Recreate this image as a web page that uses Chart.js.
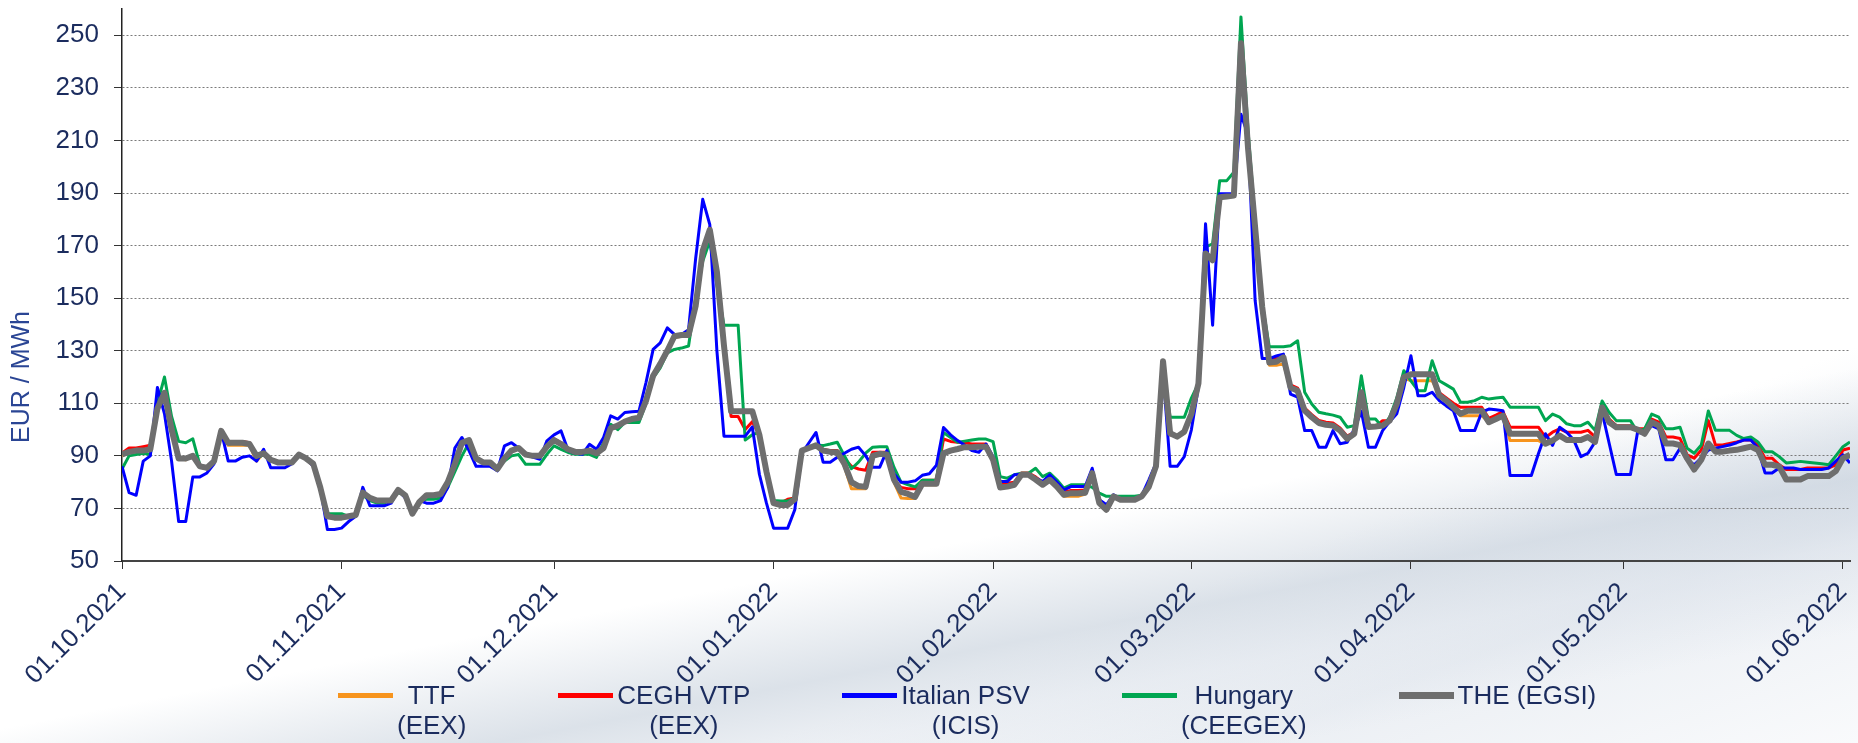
<!DOCTYPE html>
<html lang="en">
<head>
    <meta charset="UTF-8">
    <title>Gas hub prices</title>
    <script src="https://cdn.jsdelivr.net/npm/chart.js"></script>
    <style>
        html, body {
            margin: 0;
            padding: 0;
            width: 1858px;
            height: 743px;
            overflow: hidden;
            font-family: 'Liberation Sans', Arial, sans-serif;
        }
        body {
            background:
                linear-gradient(169deg, rgba(255,255,255,0) 66%, rgba(176,190,206,0.45) 76%, rgba(205,214,226,0.35) 82%, rgba(255,255,255,0) 90%),
                linear-gradient(160deg, rgba(255,255,255,0) 72%, rgba(222,228,236,0.6) 84%, rgba(240,243,247,0.4) 100%),
                #ffffff;
        }
        #wrap {
            position: relative;
            width: 1858px;
            height: 743px;
        }
        #legend {
            position: absolute;
            left: 338px;
            top: 680px;
            display: flex;
            gap: 92px;
            color: #1b2c5e;
            font-size: 26px;
            line-height: 30px;
        }
        .legend-item {
            display: flex;
            align-items: flex-start;
        }
        .legend-swatch {
            width: 55px;
            height: 5px;
            margin-top: 13px;
            margin-right: 4px;
        }
        .legend-text {
            text-align: center;
        }
    </style>
</head>
<body>
<div id="wrap">
    <canvas id="priceChart" width="1858" height="743"></canvas>
    <div id="legend"></div>
</div>

<script>
    // month ticks (day index from 01.10.2021)
    var monthDays = [0, 31, 61, 92, 123, 151, 182, 212, 243];
    var monthLabels = ['01.10.2021', '01.11.2021', '01.12.2021', '01.01.2022', '01.02.2022',
        '01.03.2022', '01.04.2022', '01.05.2022', '01.06.2022'];
    var yTickValues = [50, 70, 90, 110, 130, 150, 170, 190, 210, 230, 250];

    var seriesNames = ['TTF', 'CEGH VTP', 'Italian PSV', 'Hungary', 'THE (EGSI)'];
    var seriesSources = ['(EEX)', '(EEX)', '(ICIS)', '(CEEGEX)', ''];
    var seriesColors = ['#f7941d', '#ff0000', '#0000ff', '#00a651', '#6e6e6e'];

    // daily prices, EUR/MWh
    var ttf = [
        90, 91.5, 92, 92, 92.5, 108, 114, 100, 89, 88.5,
        90, 86, 85, 87.5, 99.5, 94, 94, 94, 94, 88,
        91, 88.5, 87.5, 87.5, 87.5, 90.5, 89, 86, 78, 67,
        66.5, 66.5, 67, 67.5, 76, 74, 73, 73, 73, 77,
        75, 68, 72.5, 75, 75, 75.5, 80, 87, 95, 96,
        89, 87.5, 87.5, 85, 89, 92, 93, 90.5, 90, 90,
        93.5, 96, 94.5, 92.5, 91.5, 91.5, 92, 91, 93, 100.5,
        101.5, 103, 104, 104.5, 111, 120.5, 125, 130, 135, 135.5,
        135.5, 147, 168, 176, 160, 132, 107, 107, 107, 107,
        98, 84, 72, 71.3, 71.3, 73.5, 92, 93, 94, 92,
        91.5, 91.4, 86, 77.5, 77.5, 77.5, 90, 90.8, 90.5, 80,
        74, 73.8, 73.8, 79, 79, 79, 91, 92, 92.6, 93.3,
        93.3, 93.5, 93.5, 88.5, 78, 78.3, 79, 82.8, 82.8, 81,
        79, 80.9, 78, 74.6, 74.6, 74.6, 75.5, 83.4, 72, 69.5,
        74.6, 73.3, 73.3, 73.3, 74.6, 78.3, 86, 126, 98.6, 97.3,
        99.2, 106, 117.6, 167, 164.4, 188.4, 188.7, 189, 247, 207,
        177, 146, 124.5, 124.5, 125, 116, 114.8, 107, 104.5, 102.5,
        101.8, 101.5, 99.6, 96.5, 98.4, 114.2, 101, 101.2, 101.5, 103.4,
        109.7, 119.5, 118.6, 118.6, 118.6, 118.6, 113, 111, 108, 105.3,
        105.3, 105.3, 105.3, 102.8, 104, 105, 95.8, 95.8, 95.8, 95.8,
        95.8, 94.6, 95.8, 97.7, 96, 96, 96, 97, 95, 108.4,
        102.8, 100.9, 100.9, 100.9, 100, 98.4, 102.8, 101.5, 94.7, 94.7,
        94.1, 89, 84.8, 88.5, 94.7, 91.6, 91.6, 92, 92.3, 92.9,
        93.5, 92.2, 86.6, 86.6, 86, 81, 81, 81, 82.3, 82.3,
        82.3, 82.3, 84.2, 89.1, 90.4
    ];
    var ceghVtp = [
        91, 93, 93, 93.5, 94, 108, 114, 100, 89, 89,
        90, 86, 85.5, 88, 99.5, 95.5, 95.5, 95.5, 95, 90,
        91, 88.5, 87.5, 87.5, 87.5, 90.5, 89, 87, 78, 67,
        66.5, 66.5, 67, 67.5, 76, 74, 73, 73, 73, 77,
        75, 68, 72.5, 75, 75, 75.5, 80, 87, 95, 96,
        89, 87.5, 87.5, 85, 89, 92, 93, 90.5, 90, 90,
        93.5, 96.5, 95, 92.5, 91.5, 91.5, 92, 91, 93, 100.5,
        101.5, 103, 104, 104.5, 111, 120.5, 125, 130, 135.5, 136,
        136, 147, 168, 177, 160, 130, 105, 105, 100, 103,
        98, 84, 72.5, 72, 73.5, 74, 92, 93, 94, 92.5,
        92, 92, 89, 86, 85, 84.5, 91.4, 91.4, 91.4, 81,
        78, 77.5, 77.5, 80.7, 80.7, 80.7, 96.4, 95.5, 95.2, 95,
        94.5, 94.5, 94.5, 89, 79.5, 79.6, 80, 83.5, 83.5, 82,
        80, 81.5, 79.3, 76.2, 76.8, 76.8, 77, 83.4, 72.7, 70.5,
        75, 74, 74, 74, 75, 78.5, 86, 126, 98, 97.5,
        99.2, 106, 117.6, 167, 164.4, 188.4, 188.7, 189, 247, 207,
        177, 146.7, 127, 127, 127.5, 117, 115.8, 108.2, 105.7, 103.5,
        102.8, 102.5, 100.6, 97.5, 99, 114.2, 101, 101.2, 103.4, 103.4,
        109.7, 119.9, 121, 121, 121, 121, 114, 112, 110, 108.5,
        108.5, 108.5, 108.5, 104.3, 105.5, 106.8, 100.9, 100.9, 100.9, 100.9,
        100.9, 97, 99, 100.3, 99, 99, 99, 99.7, 97.2, 109.6,
        104, 101.5, 101.5, 101.5, 100.3, 100.3, 104, 102.8, 97.2, 97.2,
        96.6, 90.4, 89.1, 92.2, 103.4, 94.1, 94.1, 94.7, 95.3, 96,
        96, 94.1, 89.1, 89.1, 86.6, 84.8, 84.8, 84.8, 85.4, 85.4,
        85.4, 85.4, 86.6, 92.2, 92.9
    ];
    var italianPsv = [
        86, 76, 75, 88, 90, 116, 106, 88, 65, 65,
        82, 82, 83.5, 87, 99.5, 88, 88, 89.5, 90, 88,
        92.5, 85.5, 85.5, 85.5, 87, 90.5, 89, 86, 78, 62,
        62, 62.5, 65, 67, 78, 71, 71, 71, 72, 77,
        74, 68, 73, 72, 72, 73, 78, 93, 97, 92,
        86, 86, 86, 84.3, 93.8, 95, 93, 90.6, 89.5, 88.7,
        95.7, 98, 99.5, 92, 91, 90.6, 94.4, 92.5, 97, 105.2,
        104, 106.5, 106.8, 107, 118, 130.5, 133, 138.7, 136.2, 136.2,
        138, 165, 187.6, 178, 130, 97.5, 97.5, 97.5, 97.5, 101,
        83, 72, 62.5, 62.5, 62.5, 69.5, 91, 95, 98.9, 87.6,
        87.6, 89.5, 91, 92.5, 93.3, 90.1, 85.7, 85.7, 92, 83.2,
        80, 80, 80.5, 82.6, 83.2, 86.4, 100.8, 98, 95.8, 94,
        92, 91.4, 94.5, 89.7, 80.2, 80.2, 82.8, 83, 83, 81.5,
        80.2, 82.8, 80, 77.1, 78.3, 78.3, 78.3, 85.3, 73.3, 71.4,
        75.2, 73.5, 73.5, 73.5, 75, 80.9, 87.2, 122, 86, 86,
        89.7, 99.9, 116.3, 178.3, 139.7, 189.7, 189.7, 189.7, 220, 212,
        149.2, 127, 127, 128, 128.7, 113.5, 112.3, 99.6, 99.6, 93.3,
        93.3, 99.6, 94.6, 95.2, 100, 107, 93.3, 93.3, 99.6, 103,
        106, 116, 128.1, 112.9, 112.9, 114.2, 111, 109, 107.2, 99.6,
        99.6, 99.6, 106.6, 107.8, 107.5, 107.2, 82.5, 82.5, 82.5, 82.5,
        90.8, 98.4, 94, 100.9, 99, 96, 89.7, 91, 95.3, 106.5,
        94.7, 82.9, 82.9, 82.9, 99, 98.4, 101.5, 100.3, 88.5, 88.5,
        92.9, 88.5, 86.6, 89.1, 92.2, 92.9, 93.5, 94.1, 95, 96,
        96, 92.9, 83.5, 83.5, 85.4, 85.4, 85.4, 84.8, 84.8, 84.8,
        84.8, 85.4, 88, 90.4, 87.3
    ];
    var hungary = [
        85, 90, 90.5, 91, 90.5, 110, 120, 105, 95.5, 95,
        96.5, 86.5, 85.5, 88, 99, 94.5, 95, 95, 94.5, 89,
        90.5, 88, 87.5, 87.5, 87.5, 90, 89, 87, 79, 68,
        68, 68, 67, 67, 75, 73, 72, 72, 73.5, 76,
        75, 68, 73, 73.5, 73.5, 74, 78, 84, 90, 95,
        89, 87.5, 87.5, 85.5, 88, 90, 90.5, 86.8, 86.8, 86.8,
        90.6, 93.8, 92.5, 91.3, 90.6, 90.6, 90.6, 89.4, 95, 102,
        100, 102.7, 102.7, 102.7, 110, 119.7, 123.5, 129.2, 130.5, 131,
        131.8, 150, 164, 171.7, 155, 139.7, 139.7, 139.7, 96, 98,
        99, 85, 73, 72.8, 72.8, 74, 92, 93.5, 94, 93.9,
        94.5, 95.2, 90.1, 85.1, 87.6, 91, 93.3, 93.5, 93.5, 85.7,
        80, 79, 78.2, 80.7, 80.7, 80.7, 98.9, 97, 95.2, 95.6,
        96, 96.4, 96.4, 95.4, 82.1, 81.5, 82.8, 83.4, 83.4, 85.3,
        82.1, 83.4, 80.9, 77.7, 79, 79, 79, 78, 75.8, 74.6,
        74.6, 74.6, 74.6, 74.6, 75, 78, 86, 123.6, 104.7, 104.7,
        104.7, 112, 117.6, 169.4, 170.7, 194.7, 194.7, 197.9, 257, 213.7,
        179.5, 148, 131.5, 131.5, 131.5, 131.9, 133.8, 114.2, 109.7, 106.6,
        106, 105.5, 104.7, 100.9, 101.5, 120.5, 104, 104, 100.9, 104.7,
        112, 122.4, 118.5, 114.8, 114.8, 126.2, 118.6, 117, 115.4, 110.4,
        110.4, 111, 112.3, 111.6, 112, 112.3, 108.5, 108.5, 108.5, 108.5,
        108.5, 103.4, 105.9, 104.7, 102.2, 101.5, 101.5, 102.8, 99.7, 110.9,
        106.5, 103.4, 103.4, 103.4, 99, 100.3, 105.9, 104.7, 100.3, 100.3,
        100.9, 92.9, 91, 94.1, 107.1, 99.7, 99.7, 99.7, 97.8, 96.6,
        97.2, 95.3, 91.6, 91.6, 89.7, 87.3, 87.6, 87.9, 87.6, 87.3,
        87, 86.6, 90, 93.5, 95.3
    ];
    var theEgsi = [
        90.5, 91.5, 92, 92, 92.5, 108, 114, 100, 89, 89,
        90, 86, 85.5, 88, 99.5, 95, 95, 95, 94.5, 90,
        91, 88.5, 87.5, 87.5, 87.5, 90.5, 89, 87, 78, 67,
        66.5, 66.5, 67, 67.5, 76, 74, 73, 73, 73, 77,
        75, 68, 72.5, 75, 75, 75.5, 80, 87, 95, 96,
        89, 87.5, 87.5, 85, 89, 92, 93, 90.5, 90, 90,
        93.5, 96, 94.5, 92.5, 91.5, 91.5, 92, 91, 93, 100.5,
        101.5, 103, 104, 104.5, 111, 120.5, 125, 130, 135.5, 136,
        136, 147, 168, 176, 160, 132, 107, 107, 107, 107,
        98, 84, 72, 71.3, 71.3, 73.5, 92, 93, 94, 92,
        91.5, 91.4, 87, 80, 78.5, 78.2, 90, 90.8, 90.5, 81,
        76.3, 75.5, 74.4, 79.4, 79.4, 79.4, 91, 92, 92.6, 93.3,
        93.3, 93.5, 93.5, 88.5, 78, 78.3, 79, 82.8, 82.8, 81,
        79, 80.9, 78.3, 75.2, 75.8, 75.8, 76, 83.4, 72, 69.5,
        74.6, 73.3, 73.3, 73.3, 74.6, 78.3, 86, 126, 98.6, 97.3,
        99.2, 106, 117.6, 167, 164.4, 188.4, 188.7, 189, 247, 207,
        177, 146.7, 125.5, 125.8, 127.5, 116, 114.8, 107.2, 104.7, 102.5,
        101.8, 101.5, 99.6, 96.5, 98.4, 114.2, 101, 101.2, 101.5, 103.4,
        109.7, 119.9, 121, 121, 121, 121, 113, 111, 108.5, 106,
        107.2, 107.2, 107.2, 102.8, 104, 105.3, 98.4, 98.4, 98.4, 98.4,
        98.4, 94.6, 95.8, 97.7, 96, 96, 96, 97.2, 95.3, 108.4,
        102.8, 100.9, 100.9, 100.9, 100, 98.4, 102.8, 101.5, 94.7, 94.7,
        94.1, 89, 84.8, 88.5, 94.7, 91.6, 91.6, 92, 92.3, 92.9,
        93.5, 92.2, 86.6, 86.6, 86, 81, 81, 81, 82.3, 82.3,
        82.3, 82.3, 84.2, 89.1, 90.4
    ];

    var seriesValues = [ttf, ceghVtp, italianPsv, hungary, theEgsi];
    var lineWidths = [3, 3, 3, 3, 6];
    var drawOrder = [4, 3, 1, 2, 0]; // lower = drawn on top

    var fontFamily = "'Liberation Sans', Arial, sans-serif";
    var textColor = '#1b2c5e';

    function toPoints(values) {
        return values.map(function (v, i) { return { x: i, y: v }; });
    }

    function noScalePadding(scale) {
        scale.paddingTop = 0;
        scale.paddingBottom = 0;
        scale.paddingLeft = 0;
        scale.paddingRight = 0;
    }

    // y axis title sits lower than the plot centre, so draw it here
    var yTitlePlugin = {
        id: 'yTitle',
        afterDraw: function (chart) {
            var ctx = chart.ctx;
            ctx.save();
            ctx.translate(22, 377);
            ctx.rotate(-Math.PI / 2);
            ctx.font = '25px ' + fontFamily;
            ctx.fillStyle = '#2a4594';
            ctx.textAlign = 'center';
            ctx.textBaseline = 'middle';
            ctx.fillText('EUR / MWh', 0, 0);
            ctx.restore();
        }
    };

    document.addEventListener('DOMContentLoaded', function () {
        var datasets = seriesNames.map(function (name, i) {
            return {
                label: name,
                data: toPoints(seriesValues[i]),
                borderColor: seriesColors[i],
                backgroundColor: seriesColors[i],
                borderWidth: lineWidths[i],
                pointRadius: 0,
                tension: 0,
                borderJoinStyle: 'round',
                fill: false,
                order: drawOrder[i]
            };
        });

        var ctx = document.getElementById('priceChart').getContext('2d');
        new Chart(ctx, {
            type: 'line',
            data: { datasets: datasets },
            options: {
                responsive: false,
                animation: false,
                devicePixelRatio: 1,
                layout: { padding: { top: 9, right: 8, left: 0, bottom: 0 } },
                plugins: {
                    legend: { display: false },
                    tooltip: { enabled: false }
                },
                scales: {
                    x: {
                        type: 'linear',
                        min: 0,
                        max: 244,
                        afterBuildTicks: function (scale) {
                            scale.ticks = monthDays.map(function (d) { return { value: d }; });
                        },
                        afterFit: function (scale) {
                            scale.height = 182;
                            noScalePadding(scale);
                        },
                        ticks: {
                            autoSkip: false,
                            minRotation: 45,
                            maxRotation: 45,
                            padding: 8,
                            color: textColor,
                            font: { family: fontFamily, size: 26 },
                            callback: function (value) {
                                var k = monthDays.indexOf(value);
                                return k >= 0 ? monthLabels[k] : '';
                            }
                        },
                        grid: {
                            drawOnChartArea: false,
                            drawTicks: true,
                            tickLength: 8,
                            tickColor: '#333333',
                            tickWidth: 1
                        },
                        border: { display: true, color: '#444444', width: 2 }
                    },
                    y: {
                        min: 50,
                        max: 260,
                        afterBuildTicks: function (scale) {
                            scale.ticks = yTickValues.map(function (v) { return { value: v }; });
                        },
                        afterFit: function (scale) {
                            scale.width = 122;
                            noScalePadding(scale);
                        },
                        ticks: {
                            padding: 15,
                            color: textColor,
                            font: { family: fontFamily, size: 26 }
                        },
                        grid: {
                            color: '#7a7a7a',
                            lineWidth: 1,
                            tickLength: 8,
                            tickColor: '#333333',
                            tickBorderDash: []
                        },
                        border: { display: true, color: '#222222', width: 1.5, dash: [2, 2] }
                    }
                }
            },
            plugins: [yTitlePlugin]
        });

        // two-line legend built from the series names
        var legend = document.getElementById('legend');
        seriesNames.forEach(function (name, i) {
            var item = document.createElement('div');
            item.className = 'legend-item';
            var sw = document.createElement('div');
            sw.className = 'legend-swatch';
            sw.style.background = seriesColors[i];
            if (lineWidths[i] > 3) { sw.style.height = '7px'; sw.style.marginTop = '12px'; }
            var txt = document.createElement('div');
            txt.className = 'legend-text';
            txt.innerHTML = name + (seriesSources[i] ? '<br>' + seriesSources[i] : '');
            item.appendChild(sw);
            item.appendChild(txt);
            legend.appendChild(item);
        });
    });
</script>
</body>
</html>
